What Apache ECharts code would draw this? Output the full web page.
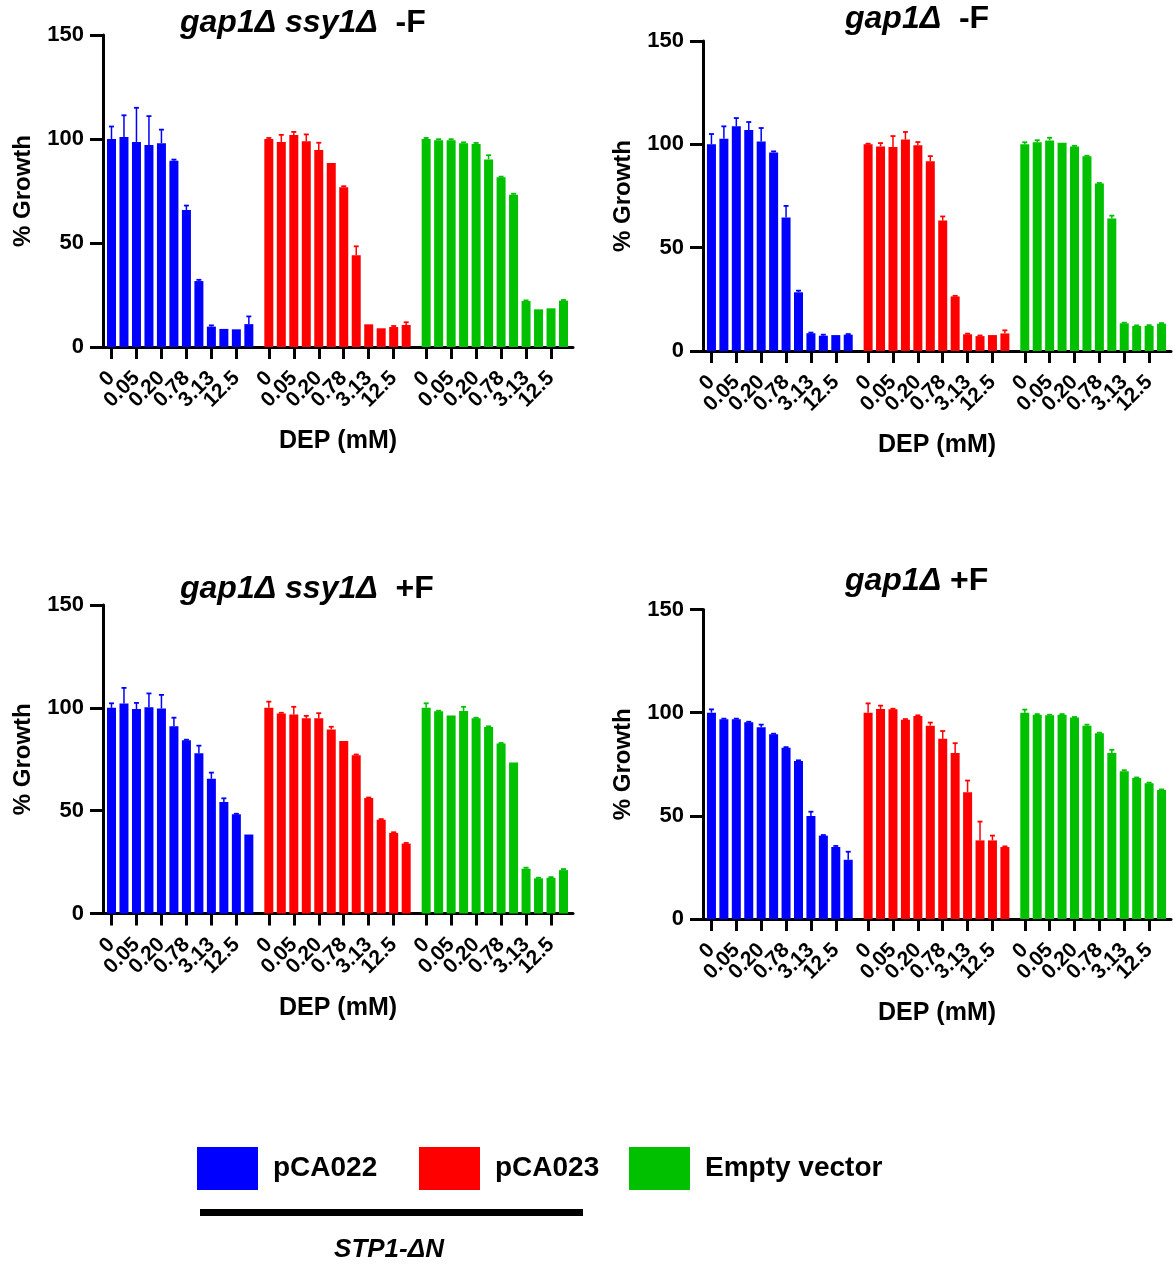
<!DOCTYPE html>
<html><head><meta charset="utf-8">
<script src="https://cdn.jsdelivr.net/npm/echarts@6/dist/echarts.min.js"></script>
<style>html,body{margin:0;padding:0;background:#fff}#c{width:1173px;height:1266px}</style>
</head><body><div id="c"></div>
<script>
// ---------- DATA ----------
const concentrations = ['0','0.024','0.05','0.10','0.20','0.39','0.78','1.56','3.13','6.25','12.5','25']; // DEP (mM)
const labelEvery = 2; // tick label shown on every other concentration
const strains = ['pCA022', 'pCA023', 'Empty vector'];
const strainColors = ['#0000FF', '#FF0000', '#00C000'];
const panelGenotype = ['gap1Δ ssy1Δ', 'gap1Δ', 'gap1Δ ssy1Δ', 'gap1Δ'];
const panelCondition = ['  -F', '  -F', '  +F', ' +F'];

// Panel 1: gap1Δ ssy1Δ -F
const p1_pCA022    = [100, 101, 98.6, 97.1, 98, 89.6, 65.9, 31.7, 9.8, 8.7, 8.5, 11];
const p1_pCA022_sd = [6, 10.4, 16.4, 13.9, 6.5, 0.5, 2.1, 0.6, 0.6, 0, 0, 3.7];
const p1_pCA023    = [100, 98.6, 101.9, 98.9, 94.7, 88.5, 76.8, 44.1, 10.9, 9.0, 9.6, 10.6];
const p1_pCA023_sd = [0.5, 3.4, 1.5, 3.3, 3.5, 0, 0.5, 4.3, 0, 0, 0.5, 1.3];
const p1_empty     = [100, 99.4, 99.4, 97.9, 97.6, 90.2, 81.6, 73.2, 22.1, 18.1, 18.6, 22.3];
const p1_empty_sd  = [0.5, 0.5, 0.5, 0.5, 0.5, 2, 0.3, 0.5, 0.3, 0, 0, 0.3];

// Panel 2: gap1Δ -F
const p2_pCA022    = [100, 102.7, 108.7, 106.9, 101.4, 96.1, 64.6, 28.4, 8.6, 7.4, 7.7, 7.9];
const p2_pCA022_sd = [5, 6, 4, 3.9, 6.5, 0.5, 5.6, 0.8, 0.3, 0.5, 0, 0.3];
const p2_pCA023    = [100, 99, 98.7, 102.3, 99.5, 91.8, 63.1, 26.4, 8.1, 7.2, 7.7, 8.5];
const p2_pCA023_sd = [0.3, 1.6, 5.3, 3.7, 1.6, 2.5, 2, 0.3, 0.3, 0.3, 0, 1.5];
const p2_empty     = [100, 101, 101.9, 100.8, 99, 94.2, 81, 64.1, 13.4, 12.1, 12.2, 13.2];
const p2_empty_sd  = [1, 1, 1.3, 0, 0.3, 0.3, 0.3, 1.4, 0.3, 0.3, 0.3, 0.3];

// Panel 3: gap1Δ ssy1Δ +F
const p3_pCA022    = [100, 102.1, 99.4, 100.3, 99.7, 91, 84.2, 77.9, 65.5, 54.2, 48.2, 38.4];
const p3_pCA022_sd = [2.2, 7.6, 3, 6.7, 6.6, 4.2, 0.3, 3.7, 3, 1.8, 0.3, 0];
const p3_pCA023    = [100, 97.3, 96.8, 94.9, 94.9, 89.5, 83.9, 77, 56.1, 45.6, 39.2, 34];
const p3_pCA023_sd = [3, 0.3, 3.7, 1.2, 2.5, 1.3, 0, 0.3, 0.3, 0.3, 0.3, 0.3];
const p3_empty     = [100, 98.3, 96.3, 98.5, 94.9, 90.7, 82.6, 73.4, 21.8, 17.1, 17.4, 21.1];
const p3_empty_sd  = [2.2, 0.3, 0, 2, 0.3, 0.3, 0.3, 0, 0.5, 0.3, 0.3, 0.5];

// Panel 4: gap1Δ +F
const p4_pCA022    = [100, 96.8, 96.8, 95.3, 92.9, 89.5, 83, 76.6, 49.9, 40.4, 34.9, 28.7];
const p4_pCA022_sd = [1.6, 0.3, 0.3, 0.3, 1.3, 0.3, 0.3, 0.3, 2.1, 0.3, 0.5, 3.9];
const p4_pCA023    = [100, 101.8, 101.6, 96.6, 98.4, 93.7, 87.3, 80.5, 61.4, 38.1, 38.1, 34.9];
const p4_pCA023_sd = [4.5, 1.6, 0.3, 0.3, 0.3, 1.5, 3.8, 4.7, 5.7, 9.1, 2.3, 0.3];
const p4_empty     = [100, 99, 98.7, 99, 97.6, 93.7, 90, 80.5, 71.6, 68.3, 65.8, 62.5];
const p4_empty_sd  = [1.5, 0.3, 0.3, 0.3, 0.3, 0.5, 0.3, 1.5, 0.5, 0.3, 0.3, 0.3];

const panels = [
  [[p1_pCA022, p1_pCA022_sd], [p1_pCA023, p1_pCA023_sd], [p1_empty, p1_empty_sd]],
  [[p2_pCA022, p2_pCA022_sd], [p2_pCA023, p2_pCA023_sd], [p2_empty, p2_empty_sd]],
  [[p3_pCA022, p3_pCA022_sd], [p3_pCA023, p3_pCA023_sd], [p3_empty, p3_empty_sd]],
  [[p4_pCA022, p4_pCA022_sd], [p4_pCA023, p4_pCA023_sd], [p4_empty, p4_empty_sd]]
];

// ---------- LAYOUT ----------
const FONT = '"Liberation Sans", Arial, sans-serif';
const GROUP_STEP = 12.6; // bar slots between group starts
const X_MIN = -0.68, X_MAX = 36.96;
const grids = [
  {left: 103, top: 35, width: 470, height: 312},
  {left: 703, top: 41, width: 468, height: 310},
  {left: 103, top: 605, width: 470, height: 308.5},
  {left: 703, top: 609.5, width: 468, height: 309.5}
];
const titlePos = [
  {left: 180, top: 7}, {left: 845, top: 3}, {left: 180, top: 573}, {left: 845, top: 565}
];
const legendLeft = [197, 419, 629];

const pos = (g, i) => +(g * GROUP_STEP + i).toFixed(3);
// tick positions, interleaved across groups (neighbouring entries are far apart)
const tickVals = [];
const tickMap = {};
for (let i = 0; i < concentrations.length; i += labelEvery) {
  for (let g = 0; g < strains.length; g++) {
    const p = pos(g, i);
    tickVals.push(p);
    tickMap[p.toFixed(3)] = concentrations[i];
  }
}

const option = {
  backgroundColor: '#fff',
  animation: false,
  title: [],
  grid: grids,
  xAxis: [],
  yAxis: [],
  series: [],
  legend: strains.map((s, g) => ({
    data: [s], left: legendLeft[g], top: 1147, padding: 0,
    itemWidth: 61, itemHeight: 43, icon: 'rect', selectedMode: false,
    textStyle: {fontSize: 28, fontWeight: 'bold', color: '#000', fontFamily: FONT, padding: [0, 0, 0, 10]}
  })),
  graphic: [
    {type: 'rect', left: 200, top: 1209, shape: {width: 383, height: 7}, style: {fill: '#000'}},
    {type: 'text', x: 389, y: 1250, style: {text: 'STP1-ΔN', fill: '#000', fontSize: 26, fontWeight: 'bold',
      fontStyle: 'italic', fontFamily: FONT, align: 'center', verticalAlign: 'middle'}}
  ]
};

panels.forEach((panel, k) => {
  option.title.push({
    text: '{i|' + panelGenotype[k] + '}{n|' + panelCondition[k] + '}',
    left: titlePos[k].left, top: titlePos[k].top, padding: 0,
    textStyle: {rich: {
      i: {fontSize: 32, fontWeight: 'bold', fontStyle: 'italic', color: '#000', fontFamily: FONT},
      n: {fontSize: 32, fontWeight: 'bold', color: '#000', fontFamily: FONT}
    }}
  });
  option.xAxis.push({
    gridIndex: k, type: 'value', min: X_MIN, max: X_MAX,
    name: 'DEP (mM)', nameLocation: 'middle', nameGap: 82,
    nameTextStyle: {fontSize: 25, fontWeight: 'bold', color: '#000', fontFamily: FONT},
    splitLine: {show: false},
    axisLine: {show: true, onZero: false, lineStyle: {color: '#000', width: 3}},
    axisTick: {show: true, customValues: tickVals, length: 12, lineStyle: {color: '#000', width: 3}},
    axisLabel: {
      customValues: tickVals, rotate: 45, margin: 28, showMinLabel: true, showMaxLabel: true,
      hideOverlap: false,
      fontSize: 21, fontWeight: 'bold', color: '#000', fontFamily: FONT,
      formatter: v => tickMap[(+v).toFixed(3)] || ''
    }
  });
  option.yAxis.push({
    gridIndex: k, type: 'value', min: 0, max: 150, interval: 50,
    name: '% Growth', nameLocation: 'middle', nameGap: 68, nameRotate: 90,
    nameTextStyle: {fontSize: 24, fontWeight: 'bold', color: '#000', fontFamily: FONT},
    splitLine: {show: false},
    axisLine: {show: true, onZero: false, lineStyle: {color: '#000', width: 3}},
    axisTick: {show: true, length: 13, lineStyle: {color: '#000', width: 3}},
    axisLabel: {margin: 19, fontSize: 22, fontWeight: 'bold', color: '#000', fontFamily: FONT}
  });
  panel.forEach(([means, sds], g) => {
    option.series.push({
      type: 'bar', name: strains[g], xAxisIndex: k, yAxisIndex: k,
      barWidth: 9, barGap: '-100%',
      itemStyle: {color: strainColors[g]},
      data: means.map((v, i) => [pos(g, i), v])
    });
    const col = strainColors[g];
    option.series.push({
      type: 'custom', name: strains[g] + ' SD', xAxisIndex: k, yAxisIndex: k, z: 3,
      encode: {x: 0, y: [1, 2]},
      data: means.map((v, i) => [pos(g, i), v, v + sds[i]]),
      renderItem: (params, api) => {
        const x = api.value(0), m = api.value(1), u = api.value(2);
        if (!(u > m)) return null;
        const a = api.coord([x, m]), b = api.coord([x, u]);
        return {type: 'group', children: [
          {type: 'line', shape: {x1: a[0], y1: a[1], x2: b[0], y2: b[1]}, style: {stroke: col, lineWidth: 1.5}},
          {type: 'line', shape: {x1: b[0] - 2.5, y1: b[1], x2: b[0] + 2.5, y2: b[1]}, style: {stroke: col, lineWidth: 1.8}}
        ]};
      }
    });
  });
});

const chart = echarts.init(document.getElementById('c'), null, {renderer: 'canvas'});
chart.setOption(option);
</script>
</body></html>
